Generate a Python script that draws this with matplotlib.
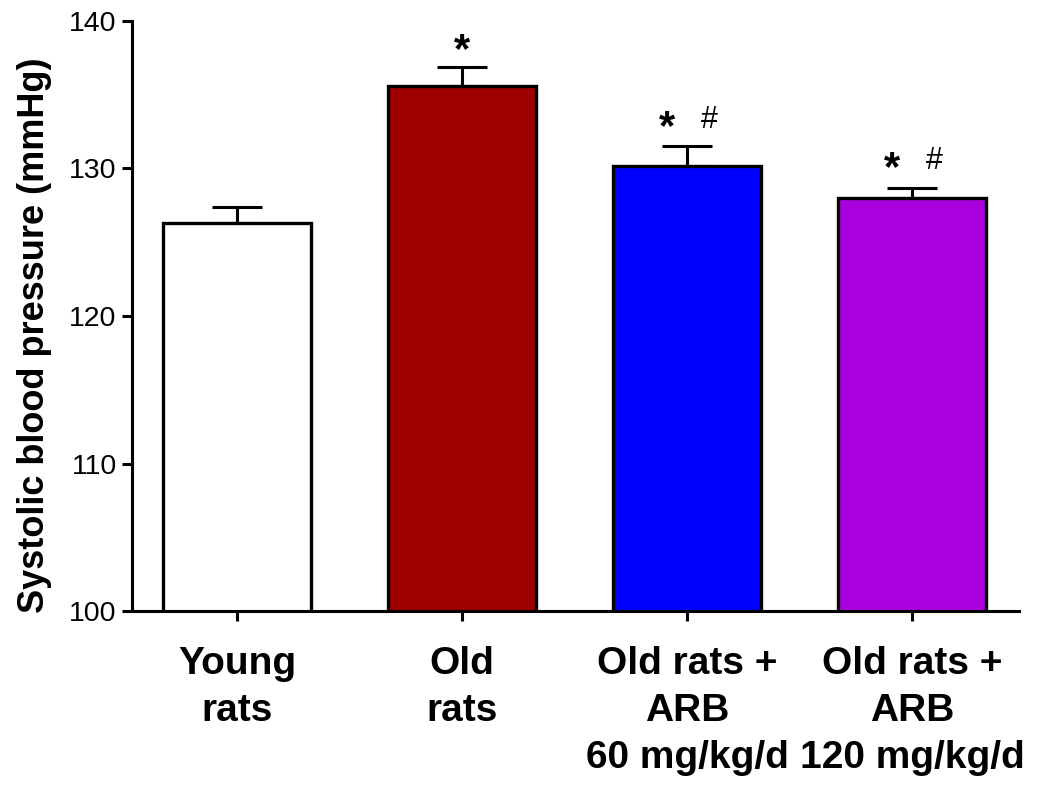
import numpy as np
import matplotlib
matplotlib.use('Agg')
import matplotlib.pyplot as plt

plt.rcParams['font.family'] = ['Liberation Sans', 'DejaVu Sans']

groups = ['Young\nrats', 'Old\nrats', 'Old rats +\nARB\n60 mg/kg/d', 'Old rats +\nARB\n120 mg/kg/d']
sbp = [126.3, 135.6, 130.2, 128.0]
sem = [1.1, 1.3, 1.3, 0.7]
colors = ['#FFFFFF', '#9E0000', '#0000FF', '#AA00DD']
star = ['', '*', '*', '*']
hash_mark = ['', '', '#', '#']

fig = plt.figure(figsize=(10.52, 7.86), dpi=100)
ax = fig.add_axes([0.1255, 0.2226, 0.8431, 0.7507])

x = np.arange(len(groups))
ax.bar(x, sbp, width=0.66, color=colors, edgecolor='black', linewidth=2.4, bottom=0,
       zorder=2)
ax.errorbar(x, sbp, yerr=[np.zeros(len(sem)), sem], fmt='none', ecolor='black',
            elinewidth=2.2, capsize=18, capthick=2.2, zorder=1)

for i in range(len(groups)):
    top = sbp[i] + sem[i]
    if star[i] and hash_mark[i]:
        ax.annotate(star[i], (x[i] - 0.088, top), xytext=(0, -1), textcoords='offset points',
                    ha='center', va='bottom', fontsize=30, fontweight='bold')
        ax.annotate(hash_mark[i], (x[i] + 0.1, top), xytext=(0, 8.5), textcoords='offset points',
                    ha='center', va='bottom', fontsize=22)
    elif star[i]:
        ax.annotate(star[i], (x[i], top), xytext=(0, -3), textcoords='offset points',
                    ha='center', va='bottom', fontsize=30, fontweight='bold')

ax.set_ylim(100, 140)
ax.set_xlim(-0.467, 3.476)
ax.set_yticks([100, 110, 120, 130, 140])
ax.set_xticks(x)
ax.set_xticklabels(groups, fontsize=28, fontweight='bold', linespacing=1.4)
ax.tick_params(axis='y', labelsize=20.5, width=2.2, length=7, pad=4)
ax.tick_params(axis='x', width=2.2, length=7, pad=18)
ax.set_ylabel('Systolic blood pressure (mmHg)', fontsize=26, fontweight='bold')
ax.yaxis.set_label_coords(-0.09, 0.468)

for s in ['top', 'right']:
    ax.spines[s].set_visible(False)
for s in ['left', 'bottom']:
    ax.spines[s].set_linewidth(2.2)

fig.savefig('out.png', dpi=100)
